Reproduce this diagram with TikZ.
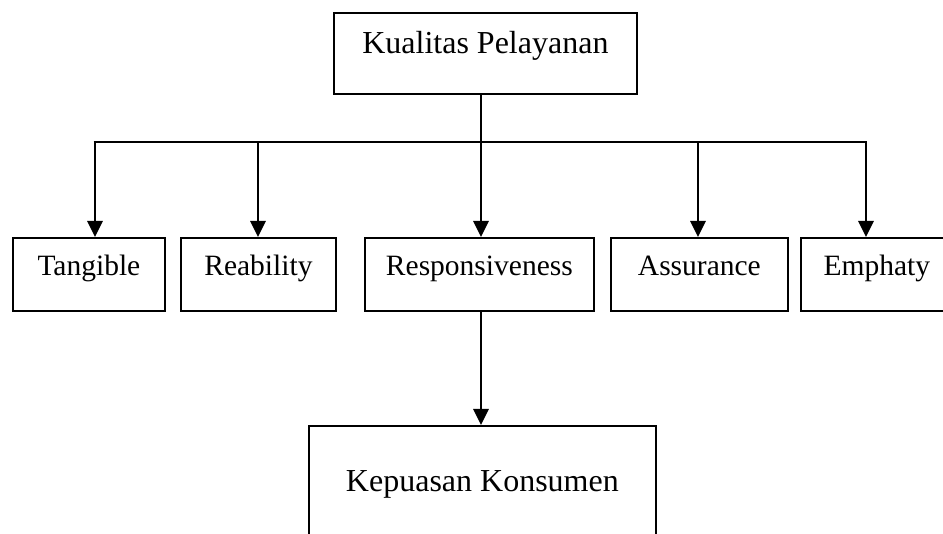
\documentclass[tikz,border=0pt]{standalone}
\usepackage{fontspec}
\setmainfont{Liberation Serif}
\usetikzlibrary{arrows.meta}
\tikzset{
	kotak/.style={draw,line width=1.8pt,inner sep=0pt,anchor=north west,font=\fontsize{32}{38}\selectfont},
	dimensi/.style={kotak,font=\fontsize{29.5}{35}\selectfont,text height=38pt,text depth=35pt},
	panah/.style={line width=2.8pt,-{Triangle[length=16pt,width=15pt]}},
	garis/.style={line width=1.5pt}
}
\begin{document}
	\begin{tikzpicture}[x=1pt,y=-1pt]
		\path[use as bounding box] (0,0) rectangle (943,534);
		% kotak utama
		\node[kotak,minimum width=303pt,text height=41pt,text depth=40pt] (kualitas) at (333,12) {Kualitas Pelayanan};
		% dimensi
		\node[dimensi,minimum width=152pt] (tangible) at (12,237) {Tangible};
		\node[dimensi,minimum width=155pt] (reability) at (180,237) {Reability};
		\node[dimensi,minimum width=229pt] (responsiveness) at (364,237) {Responsiveness};
		\node[dimensi,minimum width=177pt] (assurance) at (610,237) {Assurance};
		\node[dimensi,minimum width=152pt] (emphaty) at (800,237) {Emphaty};
		\node[kotak,minimum width=347pt,text height=66pt,text depth=66pt] (kepuasan) at (308,425) {Kepuasan Konsumen};
		% garis cabang
		\coordinate (bus) at (481,142);
		\coordinate (d1) at (95,142);
		\coordinate (d2) at (258,142);
		\coordinate (d4) at (698,142);
		\coordinate (d5) at (866,142);
		\draw[garis] (kualitas.south -| bus) -- (bus);
		\draw[garis] ([xshift=-1.4pt]d1) -- ([xshift=1.4pt]d5);
		\foreach \d/\n in {d1/tangible,d2/reability,bus/responsiveness,d4/assurance,d5/emphaty}
			\draw[panah] (\d) -- (\d |- \n.north);
		\draw[panah] (bus |- responsiveness.south) -- (bus |- kepuasan.north);
	\end{tikzpicture}
\end{document}
